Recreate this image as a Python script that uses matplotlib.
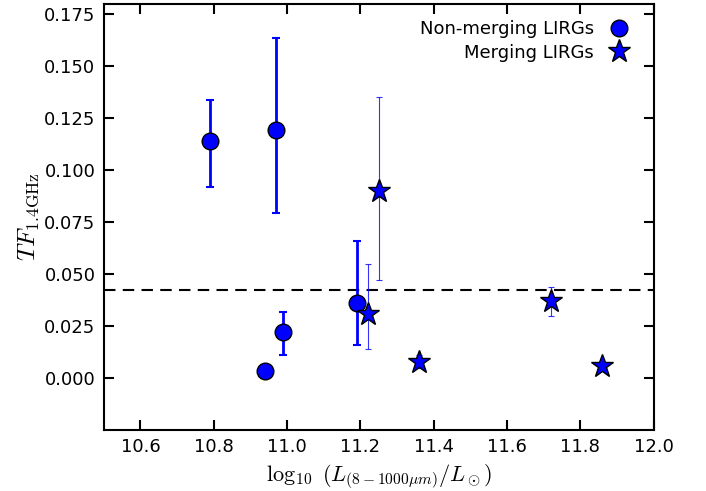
import numpy as np
import matplotlib
matplotlib.use("Agg")
from matplotlib import pyplot as plt

# non-merging LIRGs
nm_x = [10.79, 10.97, 10.94, 10.99, 11.19]
nm_y = [0.114, 0.1195, 0.0035, 0.022, 0.036]
nm_err_lo = [0.022, 0.040, 0.0, 0.011, 0.020]
nm_err_hi = [0.020, 0.044, 0.0, 0.010, 0.030]

# merging LIRGs
m_x = [11.22, 11.25, 11.36, 11.72, 11.86]
m_y = [0.031, 0.090, 0.008, 0.037, 0.006]
m_err_lo = [0.017, 0.043, 0.003, 0.007, 0.002]
m_err_hi = [0.024, 0.045, 0.003, 0.007, 0.002]

tf_mean = 0.0425

plt.rcParams['mathtext.fontset'] = 'cm'
fig = plt.figure(figsize=(7.06, 4.91), dpi=100)
ax = fig.add_axes([0.147, 0.124, 0.779, 0.868])

ax.errorbar(nm_x, nm_y, yerr=[nm_err_lo, nm_err_hi], fmt='none', ecolor='blue',
            elinewidth=2, capsize=3, capthick=1.5, zorder=2)
ax.plot(nm_x, nm_y, 'o', color='blue', markeredgecolor='black', markersize=12,
        label='Non-merging LIRGs', zorder=3)

ax.errorbar(m_x, m_y, yerr=[m_err_lo, m_err_hi], fmt='none', ecolor='blue',
            elinewidth=0.8, capsize=2.2, capthick=0.8, alpha=0.8, zorder=2)
ax.plot(m_x, m_y, '*', color='blue', markeredgecolor='black', markersize=17,
        label='Merging LIRGs', zorder=3)

ax.axhline(tf_mean, color='black', ls='--', lw=1.5, dashes=(5.5, 3.5), zorder=1)

ax.set_xlim(10.5, 12.0)
ax.set_ylim(-0.025, 0.18)
ax.set_xticks(np.arange(10.6, 12.01, 0.2))
ax.set_yticks(np.arange(0.0, 0.1751, 0.025))
ax.tick_params(direction='in', length=7, width=1.5, top=True, right=True, labelsize=13, pad=6)
for s in ax.spines.values():
    s.set_linewidth(1.5)

ax.set_xlabel(r'$\log_{10}\ (L_{(8-1000\mu m)}/L_\odot)$', fontsize=16)
ax.set_ylabel(r'$TF_{\rm 1.4GHz}$', fontsize=18, labelpad=2)

ax.legend(loc='upper right', frameon=False, markerfirst=False, numpoints=1,
          fontsize=13, handletextpad=0.4, borderaxespad=0.5, labelspacing=0.3)

fig.savefig('out.png', dpi=100)
